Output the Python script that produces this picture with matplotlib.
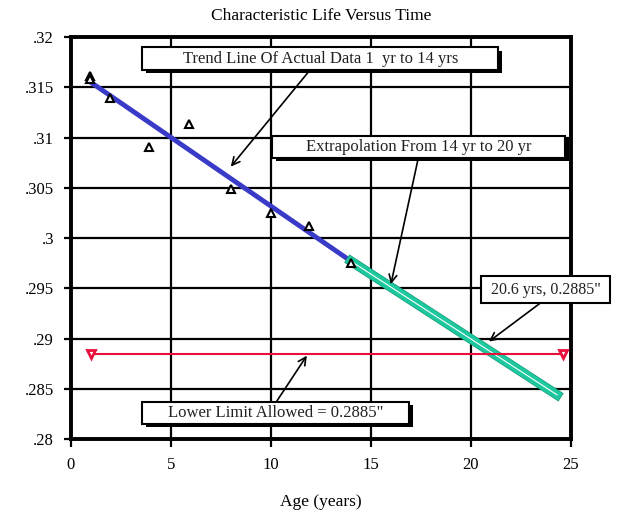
import numpy as np
import matplotlib
matplotlib.use("Agg")
import matplotlib.pyplot as plt
import matplotlib.patheffects as pe
from matplotlib.patches import Rectangle

# measured points (age in years, characteristic life)
age = [0.95, 0.95, 1.95, 3.9, 5.9, 8.0, 10.0, 11.9, 14.0]
life = [0.3161, 0.3158, 0.3139, 0.3091, 0.3113, 0.3049, 0.3025, 0.3012, 0.2975]

trend_x = [1, 14]
trend_y = [0.3155, 0.2977]
extrap_x = [14, 24.3]
extrap_y = [0.2977, 0.2844]
limit_x = [1, 24.6]
limit_y = [0.2885, 0.2885]

xticks = [0, 5, 10, 15, 20, 25]
yticks = [0.28, 0.285, 0.29, 0.295, 0.3, 0.305, 0.31, 0.315, 0.32]
ylabels = ['.28', '.285', '.29', '.295', '.3', '.305', '.31', '.315', '.32']

plt.rcParams['font.family'] = ['Liberation Serif', 'DejaVu Serif']

fig = plt.figure(figsize=(6.17, 5.14), dpi=100)
ax = fig.add_axes([70.7/617, 1-439/514, (571-70.7)/617, (439-37)/514])

ax.set_xlim(0, 25)
ax.set_ylim(0.28, 0.32)
ax.set_xticks(xticks)
ax.set_yticks(yticks)
ax.set_yticklabels(ylabels)
ax.grid(True, color='black', lw=1.6)
ax.set_axisbelow(True)
for s in ax.spines.values():
    s.set_linewidth(2.8)
ax.tick_params(axis='x', width=1.6, length=6, pad=7, labelsize=12)
ax.tick_params(axis='y', width=1.6, length=5, pad=7, labelsize=12)

ax.plot(trend_x, trend_y, color='#3a3ac8', lw=3.5, zorder=3)
ax.plot(extrap_x, extrap_y, color='#1ec89e', lw=6, zorder=3,
        path_effects=[pe.Stroke(linewidth=7, foreground='#159c78'), pe.Normal()])
ax.plot(extrap_x, extrap_y, color='white', lw=0.8, zorder=3)
ax.plot(limit_x, limit_y, color='#e8103c', lw=1.5, zorder=3)
ax.plot(limit_x, limit_y, ls='none', marker='v', ms=6, mfc='white',
        mec='#e8103c', mew=2, zorder=4)
ax.plot(age, life, ls='none', marker='^', ms=6, mfc='white', mec='black', mew=1.5, zorder=5)

ax.set_title('Characteristic Life Versus Time', fontsize=12.5, pad=12)
ax.set_xlabel('Age (years)', fontsize=12.5, labelpad=15)


def note(txt, x0, y0, x1, y1, start, tip, shadow=True, size=12):
    r = Rectangle((x0, y0), x1 - x0, y1 - y0, fc='white', ec='black', lw=1.5,
                  zorder=6, clip_on=False)
    if shadow:
        r.set_path_effects([
            pe.SimplePatchShadow(offset=(2.5, -2.5), shadow_rgbFace='black', alpha=1),
            pe.Normal()])
    ax.add_patch(r)
    ax.text((x0 + x1) / 2, (y0 + y1) / 2, txt, ha='center', va='center',
            fontsize=size, zorder=7, clip_on=False, color='#222222')
    ax.annotate('', xy=tip, xytext=start, zorder=5,
                arrowprops=dict(arrowstyle='->', color='black', lw=1.2,
                                shrinkA=0, shrinkB=0, mutation_scale=14))


note('Trend Line Of Actual Data 1  yr to 14 yrs', 3.57, 0.31672, 21.37, 0.31900,
     (11.96, 0.31672), (8.0, 0.3071))
note('Extrapolation From 14 yr to 20 yr', 10.07, 0.30796, 24.72, 0.31015,
     (17.37, 0.30796), (16.0, 0.2954))
note('20.6 yrs, 0.2885"', 20.5, 0.29353, 26.95, 0.29622,
     (23.47, 0.29353), (20.9, 0.2897), shadow=False, size=11.5)
note('Lower Limit Allowed = 0.2885"', 3.57, 0.28149, 16.92, 0.28368,
     (10.27, 0.28368), (11.8, 0.2883))

fig.savefig('out.png', dpi=100)
